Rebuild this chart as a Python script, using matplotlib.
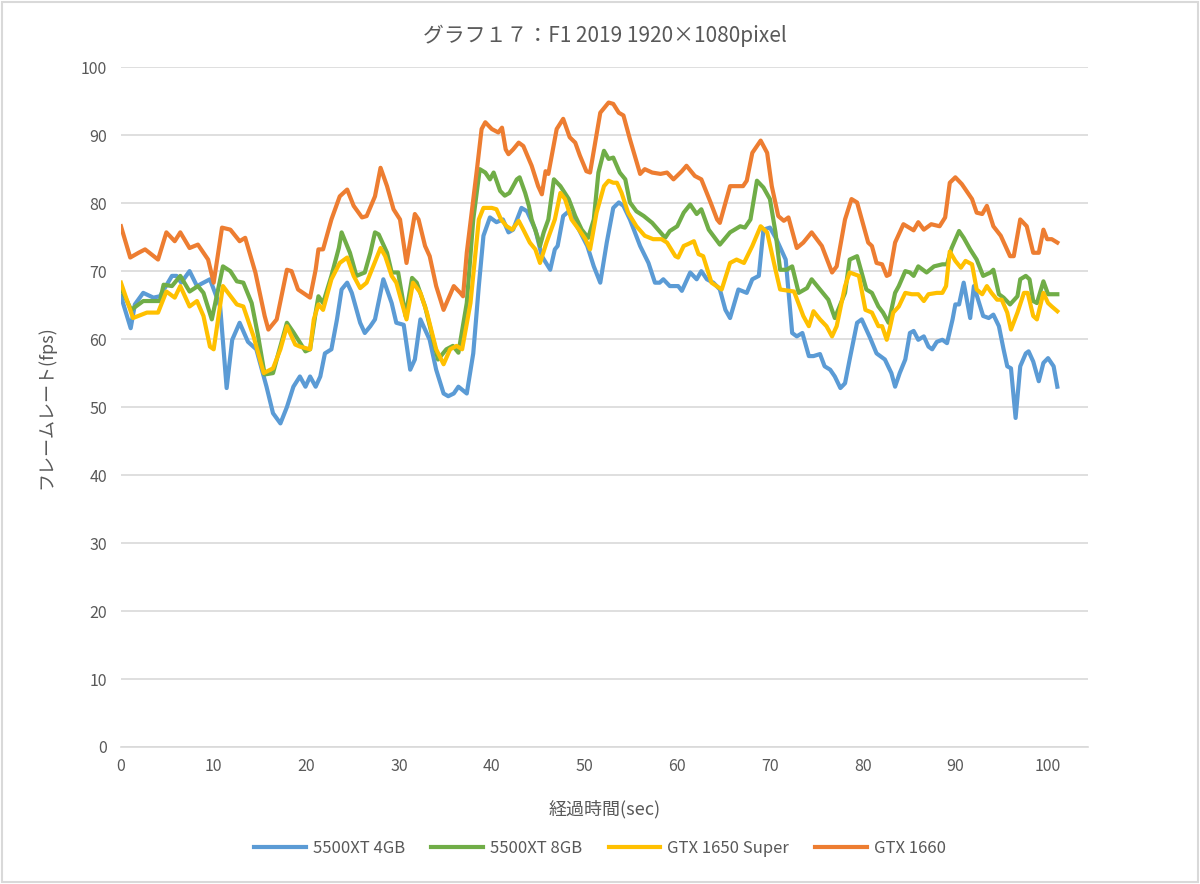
import matplotlib
matplotlib.use("Agg")
import matplotlib.pyplot as plt
from matplotlib.patches import Rectangle

plt.rcParams['font.family'] = ['Noto Sans CJK JP', 'DejaVu Sans']

TITLE = "グラフ１７：F1 2019 1920×1080pixel"
X_LABEL = "経過時間(sec)"
Y_LABEL = "フレームレート(fps)"

# ---- 5500XT 4GB ----
t_4gb = [0, 1.05, 1.5, 2.4, 3.5, 4.2, 5.5, 6, 6.5, 7.4, 8.2, 8.9, 9.6, 10.7, 11.4, 12, 12.8, 13.7, 14.6,
         15.7, 16.4, 17.2, 17.9, 18.6, 19.3, 19.9, 20.4, 21, 21.5, 22, 22.7, 23.3, 23.8, 24.4, 24.9, 25.8,
         26.3, 26.9, 27.4, 28.3, 29.2, 29.7, 30.5, 31.2, 31.7, 32.3, 32.8, 33.3, 34, 34.8, 35.3, 35.9, 36.4,
         37.3, 38, 38.6, 39.1, 39.8, 40.5, 41.2, 41.8, 42.3, 43.2, 43.8, 44.7, 45.4, 46.3, 46.8, 47.1, 47.7,
         48.3, 49.4, 50.3, 51, 51.7, 52.4, 53.1, 53.7, 54.2, 54.9, 56, 56.9, 57.6, 58.1, 58.5, 59.2, 60.1,
         60.5, 61.4, 62.1, 62.6, 63.2, 63.9, 64.6, 65.2, 65.7, 66.6, 67.5, 68.1, 68.8, 69.3, 70, 70.7, 71.7,
         72.4, 72.9, 73.5, 74.2, 74.7, 75.4, 75.9, 76.5, 77, 77.6, 78.1, 78.6, 79.4, 79.9, 80.8, 81.5, 82.4,
         83.1, 83.5, 84, 84.6, 85.1, 85.5, 86, 86.6, 87.1, 87.5, 88, 88.6, 89.1, 89.7, 90, 90.4, 90.9, 91.6,
         92, 92.5, 93, 93.6, 94.1, 94.7, 95.2, 95.6, 96, 96.5, 97, 97.6, 97.9, 98.4, 99, 99.5, 100, 100.6, 101]
fps_4gb = [66.3, 61.6, 65.1, 66.8, 66.1, 66.3, 69.3, 69.3, 68.3, 70, 67.8, 68.3, 68.8, 64.8, 52.8, 59.9, 62.4,
           59.6, 58.5, 53, 49.1, 47.6, 50, 53, 54.5, 53, 54.5, 53, 54.5, 57.9, 58.5, 62.9, 67.3, 68.3, 66.8,
           62.4, 60.9, 61.9, 62.9, 68.8, 65.3, 62.4, 62.1, 55.5, 57, 62.9, 61.4, 59.9, 55.5, 52, 51.6, 52, 53,
           52, 57.9, 67.8, 75.2, 77.9, 77.2, 77.6, 75.7, 76.1, 79.3, 78.8, 76.1, 72.2, 70.2, 73.2, 73.7, 78.1,
           78.8, 76.1, 73.7, 70.7, 68.3, 74.2, 79.3, 80.1, 79.6, 77.6, 73.7, 71.2, 68.3, 68.3, 68.8, 67.8, 67.8,
           67.1, 69.8, 68.8, 70, 68.8, 68.3, 67.3, 64.3, 63.1, 67.3, 66.8, 68.8, 69.3, 76.1, 76.4, 74.7, 71.7,
           60.9, 60.4, 60.9, 57.5, 57.5, 57.8, 56, 55.5, 54.5, 52.8, 53.5, 57, 62.4, 62.9, 60.2, 57.9, 57,
           55, 53, 55, 57, 60.9, 61.2, 59.9, 60.4, 58.9, 58.5, 59.6, 59.9, 59.4, 62.9, 65.1, 65.1, 68.3, 63.1,
           67.8, 65.6, 63.4, 63.1, 63.6, 61.9, 58.5, 56, 55.7, 48.4, 56, 57.9, 58.2, 56.7, 53.8, 56.5, 57.2, 56, 53]

# ---- 5500XT 8GB ----
t_8gb = [0, 1.1, 2.4, 4.2, 4.6, 5.5, 6.4, 7.4, 8.3, 8.9, 9.8, 11, 11.8, 12.5, 13.2, 14.1, 14.8, 15.5, 16.4, 17,
         17.9, 18.6, 19.9, 20.4, 21, 21.3, 21.8, 22.7, 23.5, 23.8, 24.7, 25.4, 26.3, 26.9, 27.4, 27.8, 28.7,
         29.2, 29.9, 30.7, 31.4, 31.9, 32.8, 33.5, 34.2, 35.1, 35.8, 36.4, 37.3, 38, 38.7, 39.3, 39.8, 40.2,
         40.9, 41.4, 41.9, 42.7, 43, 43.6, 44, 44.3, 44.9, 45.2, 45.6, 46.1, 46.7, 47.4, 48.3, 49, 49.7, 50.4,
         51, 51.5, 52.1, 52.6, 53.1, 53.8, 54.4, 54.9, 55.6, 56.4, 57.3, 58.2, 58.7, 59.2, 60, 60.7, 61.4,
         62.1, 62.6, 63.4, 64.6, 65.7, 66.8, 67.3, 67.9, 68.6, 69.3, 70, 70.6, 71.1, 71.8, 72.4, 73.1, 74,
         74.5, 75.4, 76.3, 77, 78.1, 78.6, 79.4, 80.4, 81, 81.7, 82.2, 82.8, 83.5, 83.9, 84.6, 85.1, 85.5, 86,
         86.9, 87.7, 88.6, 89.1, 89.6, 90.4, 90.9, 91.6, 92.3, 93, 93.8, 94.1, 94.7, 95.2, 95.9, 96.7, 97,
         97.6, 98, 98.4, 98.8, 99.5, 100, 101]
fps_8gb = [67.5, 64.3, 65.6, 65.6, 68, 67.8, 69.3, 67, 67.8, 66.8, 62.9, 70.7, 70, 68.5, 68.3, 65.3, 60.4, 54.8,
           55, 58, 62.4, 61, 58.2, 58.5, 63.9, 66.3, 65.3, 69.3, 73.4, 75.7, 72.7, 69.3, 69.8, 72.7, 75.7, 75.4,
           72.7, 69.8, 69.8, 63.4, 69, 68.3, 64.8, 60.9, 57, 58.5, 59, 58, 65.3, 77.6, 85, 84.5, 83.5, 84.5,
           81.8, 81.1, 81.5, 83.5, 83.8, 81.5, 79.6, 77.6, 75.2, 73.7, 75.7, 77.6, 83.5, 82.5, 80.6, 78.1, 76.1,
           74.9, 77.6, 84.5, 87.7, 86.5, 86.7, 84.5, 83.5, 80.1, 78.8, 78.1, 77.1, 75.7, 74.9, 75.9, 76.6, 78.6,
           79.8, 78.4, 79.1, 76.1, 73.9, 75.7, 76.6, 76.4, 77.6, 83.3, 82.3, 80.6, 75.7, 70.2, 70.2, 70.7, 66.8,
           67.5, 68.8, 67.3, 65.8, 63.1, 66.8, 71.7, 72.2, 67.3, 66.8, 64.8, 63.9, 62.4, 66.8, 67.8, 70, 69.8,
           69.3, 70.7, 69.8, 70.7, 71, 71, 73.4, 75.9, 74.9, 73.2, 71.7, 69.3, 69.8, 70.2, 66.6, 66.1, 65.1,
           66.3, 68.8, 69.3, 68.8, 65.6, 65.3, 68.5, 66.6, 66.6]

# ---- GTX 1650 Super ----
t_1650s = [0, 1.3, 2.8, 4, 4.9, 5.8, 6.4, 7.4, 8.2, 8.9, 9.6, 10, 11, 12.5, 13.2, 14.3, 15.4, 16.4, 17.2, 17.9,
           18.8, 19.3, 20.4, 20.8, 21.3, 21.8, 22.7, 23.6, 24.4, 25.1, 25.8, 26.5, 27.2, 28, 28.5, 29.2, 29.7,
           30.8, 31.5, 32.3, 33, 34, 34.8, 35.5, 36.2, 36.8, 37.7, 38.6, 39.1, 40, 40.5, 41, 41.6, 42.2, 42.9,
           43.4, 44.1, 44.7, 45.2, 45.9, 46.8, 47.4, 47.9, 48.6, 49.4, 50.1, 50.6, 51.3, 52.1, 52.6, 53.1, 53.5,
           54, 54.7, 55.6, 56.5, 57.4, 58.3, 58.9, 59.8, 60.1, 60.7, 61.2, 61.8, 62.3, 62.8, 63.7, 64.8, 65.7,
           66.4, 67.2, 68.1, 69, 69.7, 70.6, 71.1, 72.6, 73.6, 74.2, 74.7, 75.4, 76.1, 76.7, 77.2, 78.1, 78.6,
           79.6, 80.3, 81, 81.7, 82.1, 82.6, 82.9, 83.3, 83.9, 84.6, 85.3, 86, 86.6, 87.1, 88, 88.6, 89, 89.4,
           90, 90.6, 91.1, 91.8, 92.3, 92.9, 93.4, 93.9, 94.5, 95, 95.6, 96, 96.7, 97.4, 97.8, 98.4, 98.8, 99.5,
           100, 100.4, 101]
fps_1650s = [68.3, 63.1, 63.9, 63.9, 67, 66.1, 67.8, 64.8, 65.6, 63.4, 58.9, 58.5, 67.8, 65.1, 64.8, 60.4, 55,
             55.7, 58.5, 61.9, 59.2, 58.9, 58.5, 62.9, 65.1, 64.3, 68.8, 71.2, 72, 69.3, 67.5, 68.3, 70.7, 73.4,
             72.2, 69.3, 68.3, 62.9, 68.3, 66.8, 63.9, 58.5, 56.3, 58.5, 59, 58.5, 65.3, 77.6, 79.3, 79.3, 79.1,
             77.6, 76.6, 76.1, 77.4, 76.1, 74.2, 73.2, 71.2, 74.2, 77.6, 81.5, 80.6, 77.6, 76.1, 74.7, 73.2, 78.6,
             82.5, 83.3, 83, 83, 81.5, 78.6, 76.6, 75.2, 74.7, 74.7, 74.2, 72.2, 72, 73.7, 74, 74.4, 72.5, 72.2,
             68.3, 67.3, 71.2, 71.7, 71.2, 73.7, 76.6, 75.7, 70.2, 67.3, 67, 63.4, 61.9, 64.1, 62.9, 61.9, 60.4,
             61.9, 67.8, 69.8, 69.3, 64.3, 63.9, 61.9, 61.9, 59.9, 61.4, 63.9, 64.8, 66.8, 66.6, 66.6, 65.6, 66.6,
             66.8, 66.8, 67.8, 72.9, 71.5, 70.5, 71.5, 71, 67.3, 66.6, 67.8, 66.8, 65.8, 65.8, 63.9, 61.4, 63.9,
             66.8, 66.8, 63.4, 62.9, 66.8, 65.3, 64.8, 64.1]

# ---- GTX 1660 ----
t_1660 = [0, 1, 1.9, 2.6, 4, 4.9, 5.8, 6.4, 7.4, 8.3, 9.4, 10, 10.9, 11.8, 12.8, 13.4, 14.5, 15.5, 15.9, 16.8,
          17.9, 18.4, 19.1, 20.4, 21, 21.3, 21.8, 22.7, 23.6, 24.4, 25.1, 26, 26.5, 27.4, 28, 28.7, 29.4, 30.1,
          30.8, 31.7, 32.1, 32.8, 33.3, 34, 34.8, 35.9, 36.6, 36.9, 37.3, 38.4, 38.9, 39.3, 40, 40.7, 41.1, 41.5,
          41.8, 42.3, 42.9, 43.4, 44.3, 45, 45.4, 45.8, 46.1, 47, 47.7, 48.4, 49, 49.5, 50.2, 50.6, 51.7, 52.6,
          53.1, 53.7, 54.2, 54.9, 56, 56.5, 57.3, 58.2, 58.9, 59.6, 60.5, 61, 61.9, 62.6, 63.6, 64.3, 64.6, 65.7,
          66.6, 67.1, 67.5, 68.1, 69, 69.7, 70.2, 70.9, 71.5, 72, 72.9, 73.6, 74.5, 75.6, 76.7, 77.2, 78.1, 78.8,
          79.4, 80.6, 81, 81.5, 82.1, 82.6, 82.9, 83.5, 84, 84.4, 85.5, 86, 86.6, 87.4, 88.3, 88.9, 89.4, 90,
          90.7, 91.8, 92.3, 92.9, 93.4, 94.1, 94.9, 95.9, 96.3, 96.8, 97, 97.7, 98.4, 99, 99.5, 99.9, 100.4, 101]
fps_1660 = [76.6, 72, 72.7, 73.2, 71.7, 75.7, 74.4, 75.7, 73.4, 73.9, 71.7, 68.3, 76.4, 76.1, 74.4, 74.9, 69.8,
            63.4, 61.4, 62.9, 70.2, 70, 67.3, 66.1, 70.2, 73.2, 73.2, 77.6, 81, 82, 79.6, 77.9, 78.1, 81, 85.2,
            82.5, 79.1, 77.6, 71.2, 78.4, 77.6, 73.7, 72.2, 67.8, 64.3, 67.8, 66.8, 66.3, 72.7, 85, 90.9, 91.9,
            90.9, 90.4, 91.1, 87.9, 87.2, 87.9, 88.9, 88.4, 85.5, 82.5, 81.3, 84.7, 84.3, 90.9, 92.4, 89.7, 88.9,
            87, 84.7, 84.5, 93.3, 94.8, 94.6, 93.3, 92.9, 89.4, 84.3, 85, 84.5, 84.3, 84.5, 83.5, 84.7, 85.5,
            84, 83.5, 80.1, 77.6, 77.1, 82.5, 82.5, 82.5, 83.3, 87.4, 89.2, 87.4, 82.5, 78.1, 77.4, 77.9, 73.4,
            74.2, 75.7, 73.7, 69.8, 70.7, 77.6, 80.6, 80.1, 74.2, 73.7, 71.2, 71, 69.3, 69.5, 74.2, 75.7, 76.9,
            76, 77.2, 76.1, 76.9, 76.6, 77.9, 83, 83.8, 82.8, 80.6, 78.6, 78.4, 79.6, 76.6, 75.2, 72.2, 72.2,
            76.1, 77.6, 76.6, 72.7, 72.7, 76.1, 74.7, 74.7, 74.2]

series = [
    ("5500XT 4GB", t_4gb, fps_4gb, "#5B9BD5"),
    ("5500XT 8GB", t_8gb, fps_8gb, "#70AD47"),
    ("GTX 1650 Super", t_1650s, fps_1650s, "#FFC000"),
    ("GTX 1660", t_1660, fps_1660, "#ED7D31"),
]

fig = plt.figure(figsize=(12, 8.84), dpi=100)
ax = fig.add_axes([0.1008, 0.155, 0.8058, 0.769])

for name, t, fps, color in series:
    ax.plot(t, fps, color=color, lw=3.0, label=name, solid_joinstyle="round")

ax.set_xlim(0, 104.3)
ax.set_ylim(0, 100)
ax.set_xticks(range(0, 101, 10))
ax.set_yticks(range(0, 101, 10))
ax.grid(axis="y", color="#d9d9d9", lw=1.2)
ax.set_axisbelow(True)
for s in ["top", "right", "left"]:
    ax.spines[s].set_visible(False)
ax.spines["bottom"].set_color("#d9d9d9")
ax.spines["bottom"].set_linewidth(1.2)
ax.tick_params(axis="both", length=0, colors="#595959", labelsize=11.5, pad=8)
ax.tick_params(axis="y", pad=10)

ax.set_title(TITLE, fontsize=15, color="#595959", pad=18)
ax.set_xlabel(X_LABEL, fontsize=13, color="#595959", labelpad=18)
ax.set_ylabel(Y_LABEL, fontsize=13, color="#595959", labelpad=18)

leg = fig.legend(loc="center", bbox_to_anchor=(0.5, 0.04), ncol=4, frameon=False,
                 fontsize=12, handlelength=3.1, columnspacing=1.6, handletextpad=0.4)
for txt in leg.get_texts():
    txt.set_color("#595959")

fig.patches.append(Rectangle((0.002, 0.002), 0.996, 0.996, transform=fig.transFigure,
                             fill=False, edgecolor="#d9d9d9", lw=1.5))

fig.savefig("out.png", dpi=100, facecolor="white")
